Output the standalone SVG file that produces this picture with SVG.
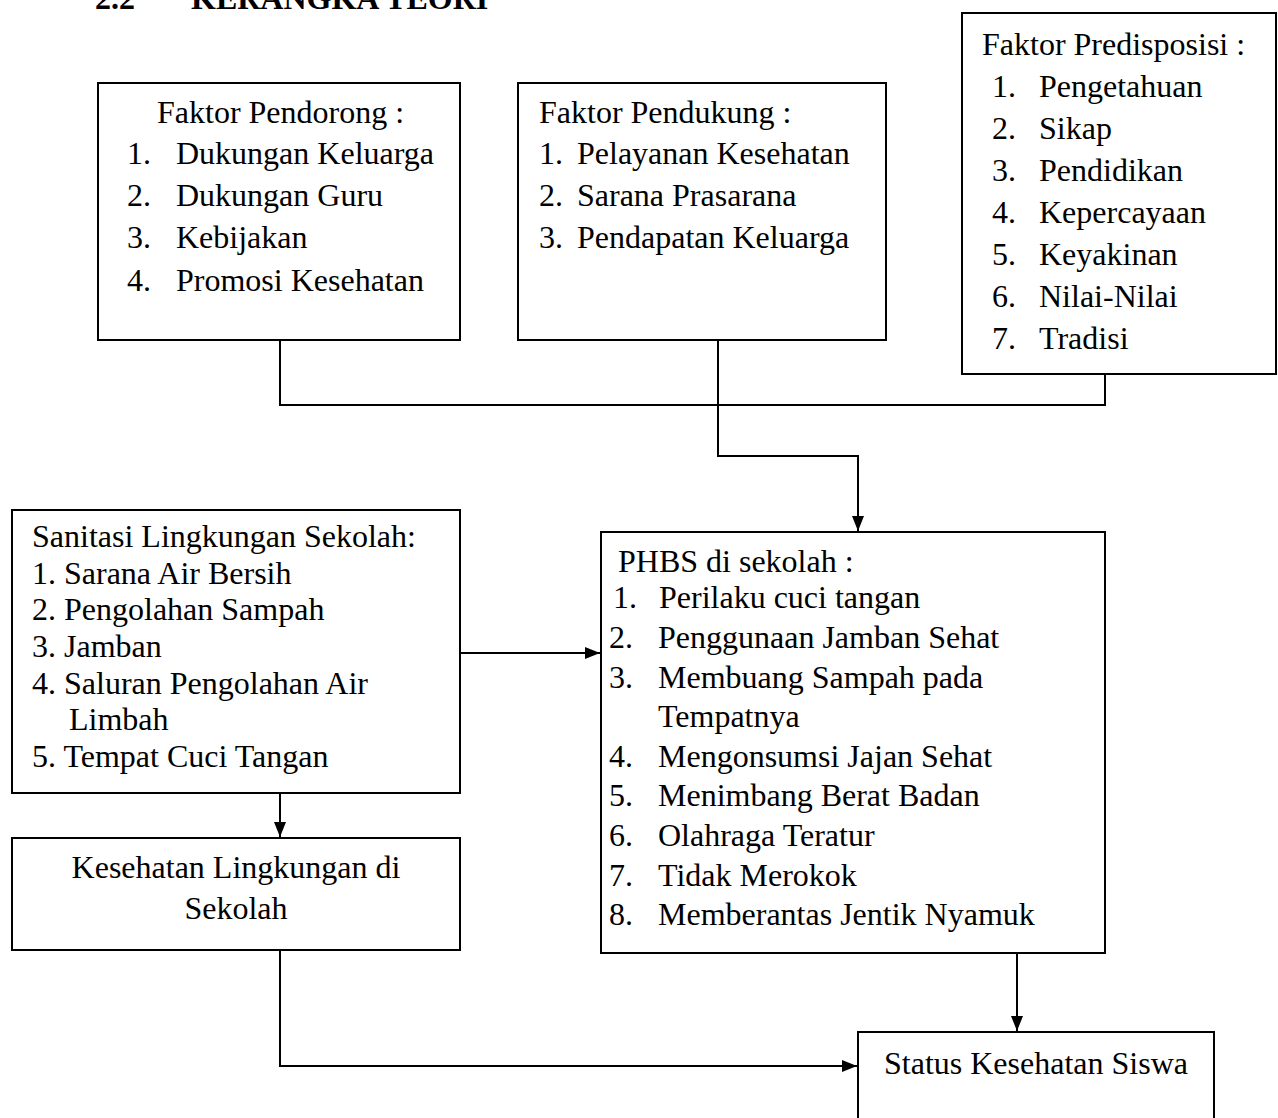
<svg xmlns="http://www.w3.org/2000/svg" width="1278" height="1118" viewBox="0 0 1278 1118">
<style>
text{font-family:"Liberation Serif","Times New Roman",serif;font-size:32px;fill:#000}
.title{font-weight:bold;font-size:32px}
.box{fill:#fff;stroke:#000;stroke-width:2}
.conn{fill:none;stroke:#000;stroke-width:2}
</style>
<defs>
<marker id="arr" markerUnits="userSpaceOnUse" markerWidth="16" markerHeight="12" refX="15" refY="6" orient="auto">
<path d="M0,0 L15,6 L0,12 z" fill="#000"/>
</marker>
</defs>
<rect width="1278" height="1118" fill="#fff"/>
<g id="title">
<text class="title" x="95" y="9">2.2</text>
<text class="title" x="191" y="9">KERANGKA TEORI</text>
</g>
<g id="connectors">
<polyline class="conn" points="280,341 280,405 1105,405 1105,374"/>
<polyline class="conn" points="718,341 718,456 858,456 858,531" marker-end="url(#arr)"/>
<line class="conn" x1="461" y1="653" x2="600" y2="653" marker-end="url(#arr)"/>
<line class="conn" x1="280" y1="793" x2="280" y2="837" marker-end="url(#arr)"/>
<polyline class="conn" points="280,950 280,1066 857,1066" marker-end="url(#arr)"/>
<line class="conn" x1="1017" y1="953" x2="1017" y2="1031" marker-end="url(#arr)"/>
</g>
<g id="pendorong">
<rect class="box" x="98" y="83" width="362" height="257"/>
<text x="157" y="123">Faktor Pendorong :</text>
<text x="127" y="164">1.</text><text x="176" y="164">Dukungan Keluarga</text>
<text x="127" y="206">2.</text><text x="176" y="206">Dukungan Guru</text>
<text x="127" y="248">3.</text><text x="176" y="248">Kebijakan</text>
<text x="127" y="291">4.</text><text x="176" y="291">Promosi Kesehatan</text>
</g>
<g id="pendukung">
<rect class="box" x="518" y="83" width="368" height="257"/>
<text x="539" y="123">Faktor Pendukung :</text>
<text x="539" y="164">1.</text><text x="577" y="164">Pelayanan Kesehatan</text>
<text x="539" y="206">2.</text><text x="577" y="206">Sarana Prasarana</text>
<text x="539" y="248">3.</text><text x="577" y="248">Pendapatan Keluarga</text>
</g>
<g id="predisposisi">
<rect class="box" x="962" y="13" width="314" height="361"/>
<text x="982" y="55">Faktor Predisposisi :</text>
<text x="992" y="97">1.</text><text x="1039" y="97">Pengetahuan</text>
<text x="992" y="139">2.</text><text x="1039" y="139">Sikap</text>
<text x="992" y="181">3.</text><text x="1039" y="181">Pendidikan</text>
<text x="992" y="223">4.</text><text x="1039" y="223">Kepercayaan</text>
<text x="992" y="265">5.</text><text x="1039" y="265">Keyakinan</text>
<text x="992" y="307">6.</text><text x="1039" y="307">Nilai-Nilai</text>
<text x="992" y="349">7.</text><text x="1039" y="349">Tradisi</text>
</g>
<g id="sanitasi">
<rect class="box" x="12" y="510" width="448" height="283"/>
<text x="32" y="547">Sanitasi Lingkungan Sekolah:</text>
<text x="32" y="584">1. Sarana Air Bersih</text>
<text x="32" y="620">2. Pengolahan Sampah</text>
<text x="32" y="657">3. Jamban</text>
<text x="32" y="694">4. Saluran Pengolahan Air</text>
<text x="69" y="730">Limbah</text>
<text x="32" y="767">5. Tempat Cuci Tangan</text>
</g>
<g id="kesehatan-lingkungan">
<rect class="box" x="12" y="838" width="448" height="112"/>
<text x="236" y="878" text-anchor="middle">Kesehatan Lingkungan di</text>
<text x="236" y="919" text-anchor="middle">Sekolah</text>
</g>
<g id="phbs">
<rect class="box" x="601" y="532" width="504" height="421"/>
<text x="618" y="572">PHBS di sekolah :</text>
<text x="613" y="608">1.</text><text x="659" y="608">Perilaku cuci tangan</text>
<text x="609" y="648">2.</text><text x="658" y="648">Penggunaan Jamban Sehat</text>
<text x="609" y="688">3.</text><text x="658" y="688">Membuang Sampah pada</text>
<text x="658" y="727">Tempatnya</text>
<text x="609" y="767">4.</text><text x="658" y="767">Mengonsumsi Jajan Sehat</text>
<text x="609" y="806">5.</text><text x="658" y="806">Menimbang Berat Badan</text>
<text x="609" y="846">6.</text><text x="658" y="846">Olahraga Teratur</text>
<text x="609" y="886">7.</text><text x="658" y="886">Tidak Merokok</text>
<text x="609" y="925">8.</text><text x="658" y="925">Memberantas Jentik Nyamuk</text>
</g>
<g id="status">
<rect class="box" x="858" y="1032" width="356" height="100"/>
<text x="884" y="1074">Status Kesehatan Siswa</text>
</g>
</svg>
